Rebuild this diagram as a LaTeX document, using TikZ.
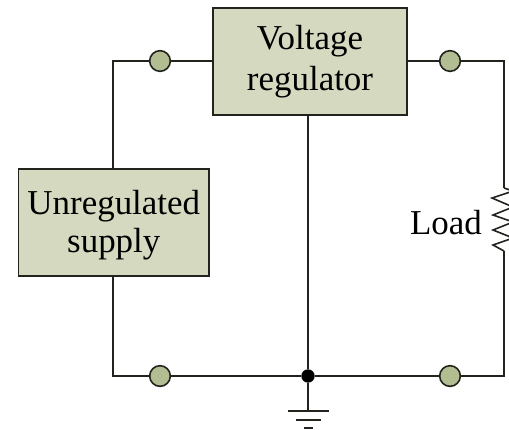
\documentclass[tikz,border=0pt]{standalone}
\usepackage{fontspec}
\setmainfont{Liberation Serif}
\usetikzlibrary{calc}

\definecolor{boxfill}{RGB}{212,217,192}
\definecolor{termfill}{RGB}{178,190,146}
\definecolor{wire}{RGB}{35,35,30}

\tikzset{
    blockbox/.style={draw=wire, fill=boxfill, line width=1.2pt, align=center, inner sep=0pt,
        font=\fontsize{26.2}{30.5}\selectfont},
    terminal/.style={circle, draw=wire, fill=termfill, line width=1.2pt, minimum size=15.5pt, inner sep=0pt},
    junction/.style={circle, fill=black, minimum size=10pt, inner sep=0pt},
    wiring/.style={draw=wire, line width=1pt},
}

\begin{document}
\begin{tikzpicture}[x=0.75pt, y=-0.75pt]

\clip (0,0) rectangle (509,429);
\useasboundingbox (0,0) rectangle (509,429);

\node [blockbox, minimum width=145.5pt, minimum height=80pt] (reg) at (310,61.5) {Voltage\\regulator};
\node [blockbox, font=\fontsize{26.2}{28}\selectfont, minimum width=143pt, minimum height=80pt] (supply) at (113.8,222.5) {\rule{0pt}{22pt}Unregulated\\supply};

\node [terminal] (t1) at (160,61) {};
\node [terminal] (t2) at (450,61) {};
\node [terminal] (t3) at (160,376) {};
\node [terminal] (t4) at (450,376) {};
\node [junction] (gnd) at (308,376) {};

\coordinate (c1) at (113,61);
\coordinate (c2) at (113,376);
\coordinate (c3) at (504,61);
\coordinate (c4) at (504,376);
\coordinate (r1) at (504,188);
\coordinate (r2) at (504,251);
\coordinate (g0) at (308,411);

\draw [wiring] (supply.north -| c1) -- (c1) -- (t1);
\draw [wiring] (t1) -- (t1 -| reg.west);
\draw [wiring] (t2 -| reg.east) -- (t2);
\draw [wiring] (t2) -- (c3) -- (r1);
\draw [wiring, line width=1.2pt] (r1) -- (513,191) -- (492,198) -- (513,207) -- (493,215) -- (513,222)
    -- (493,230) -- (513,238) -- (493,245) -- (r2);
\draw [wiring] (r2) -- (c4) -- (t4);
\draw [wiring] (t4) -- (gnd);
\draw [wiring] (gnd) -- (t3);
\draw [wiring] (t3) -- (c2) -- (supply.south -| c2);
\draw [wiring] (reg.south -| gnd) -- (gnd);
\draw [wiring] (gnd) -- (g0);

\node [font=\fontsize{26.2}{30.5}\selectfont, inner sep=0pt] (load) at (446,223) {Load};

\draw [wiring] (288,411) -- (329,411);
\draw [wiring] (296,420) -- (321,420);
\draw [wiring, line width=1.6pt] (304,428) -- (313,428);

\end{tikzpicture}
\end{document}
